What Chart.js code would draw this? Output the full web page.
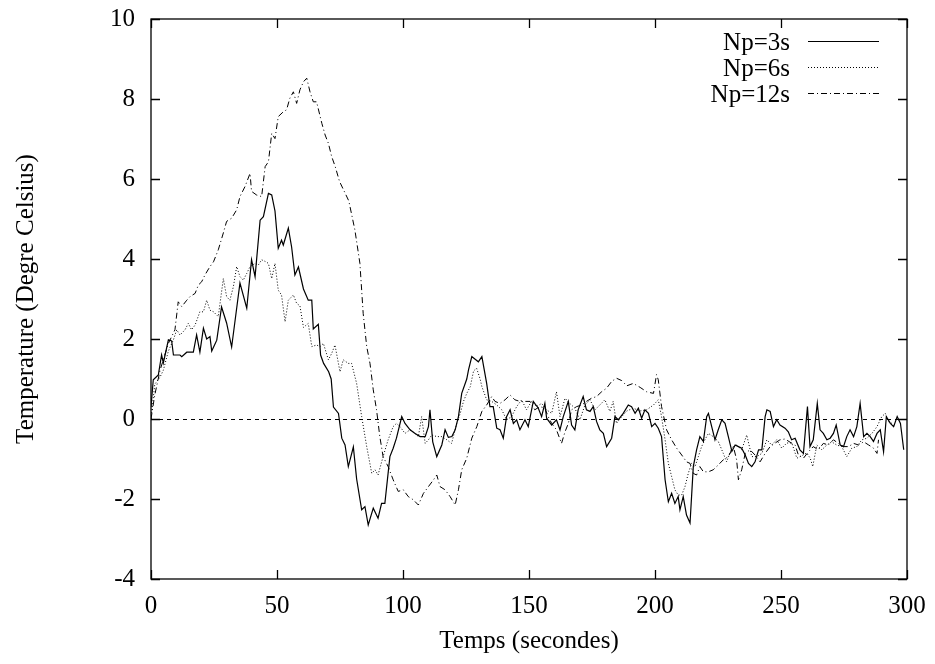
<!DOCTYPE html>
<html>
<head>
<meta charset="utf-8">
<script src="https://cdn.jsdelivr.net/npm/chart.js@4.4.1/dist/chart.umd.min.js"></script>
<style>
  html, body { margin: 0; padding: 0; background: #fff; }
  canvas { display: block; }
</style>
</head>
<body>
<canvas id="tempChart" width="935" height="664"></canvas>
<script>
// Np=3s (trait plein)
const t3 = [0, 0.9, 2.9, 4.2, 4.9, 6.9, 8.2, 8.9, 11.5, 12.2, 14.2, 16.8, 18.1, 19.4, 20.8, 22.1, 23.4, 24.1, 26.1, 28.0,
  30.0, 32.0, 35.3, 38.0, 39.9, 41.3, 43.3, 44.6, 46.6, 47.9, 49.2, 50.5, 51.8, 52.5, 54.5, 55.8, 57.1, 58.5, 60.5, 62.4,
  63.8, 64.4, 66.4, 67.3, 68.5, 70.5, 71.5, 72.4, 74.4, 75.7, 77.0, 78.3, 80.3, 81.6, 83.6, 84.9, 86.2, 88.2, 90.1, 91.5,
  92.8, 94.8, 96.1, 97.4, 99.5, 100.8, 102.8, 104.8, 106.8, 108.8, 110.1, 110.7, 111.8, 113.4, 115.4, 116.7, 118.0, 119.4, 120.7, 122.0,
  123.3, 125.3, 126.0, 127.3, 129.9, 131.3, 133.2, 134.5, 135.8, 137.2, 138.5, 139.8, 141.1, 142.5, 143.8, 145.1, 146.4, 148.4, 149.7, 151.7,
  153.7, 155.0, 156.3, 157.0, 159.0, 160.9, 162.3, 163.6, 165.6, 166.9, 168.2, 169.5, 171.5, 172.8, 174.2, 175.5, 176.8, 178.1, 179.5, 180.8,
  182.8, 184.1, 185.4, 187.4, 189.4, 190.7, 192.1, 193.4, 194.7, 196.0, 197.4, 198.7, 200.0, 201.3, 202.6, 204.0, 205.3, 206.6, 207.9, 209.2,
  209.9, 211.2, 212.5, 213.9, 215.2, 216.5, 217.8, 219.2, 220.5, 221.2, 222.5, 223.8, 225.1, 226.5, 227.8, 229.1, 230.5, 231.8, 233.1, 234.4,
  235.8, 237.1, 238.4, 239.7, 241.1, 242.4, 243.7, 244.4, 245.7, 247.0, 248.3, 249.6, 251.6, 252.9, 254.2, 255.6, 257.5, 258.9, 260.5, 261.5,
  262.8, 264.4, 265.5, 266.8, 268.2, 269.5, 270.8, 271.9, 273.5, 274.8, 276.1, 277.4, 278.8, 280.1, 281.4, 282.8, 284.1, 285.4, 286.7, 288.1,
  289.4, 290.7, 291.8, 293.4, 294.7, 296.1, 297.4, 298.7];
const v3 = [0.3, 0.98, 1.1, 1.6, 1.4, 1.98, 1.95, 1.6, 1.6, 1.56, 1.67, 1.67, 2.1, 1.67, 2.27, 2.0, 2.06, 1.7, 1.97, 2.8,
  2.4, 1.8, 3.4, 2.77, 3.98, 3.56, 4.97, 5.06, 5.64, 5.6, 5.2, 4.27, 4.47, 4.35, 4.77, 4.3, 3.6, 3.8, 3.25, 2.97,
  2.97, 2.25, 2.37, 1.6, 1.39, 1.18, 1.0, 0.3, 0.14, -0.48, -0.65, -1.19, -0.7, -1.5, -2.27, -2.19, -2.65, -2.23, -2.48, -2.11,
  -2.11, -0.94, -0.73, -0.48, 0.06, -0.11, -0.27, -0.36, -0.44, -0.44, -0.19, 0.23, -0.57, -0.94, -0.65, -0.27, -0.46, -0.44, -0.27, 0.06,
  0.64, 1.0, 1.23, 1.56, 1.43, 1.56, 0.89, 0.31, 0.31, -0.23, -0.27, -0.48, 0.06, 0.23, -0.11, -0.02, -0.27, -0.02, -0.19, 0.44,
  0.27, 0.06, 0.39, 0.02, -0.15, -0.02, -0.27, 0.06, 0.44, -0.15, -0.27, 0.23, 0.56, 0.23, 0.19, 0.31, -0.06, -0.27, -0.36, -0.69,
  -0.48, 0.06, -0.02, 0.14, 0.35, 0.31, 0.14, 0.27, 0.02, 0.23, 0.14, -0.19, -0.11, -0.23, -0.44, -1.52, -2.07, -1.86, -2.11, -1.94,
  -2.27, -1.94, -2.4, -2.6, -1.19, -0.77, -0.44, -0.56, 0.06, 0.14, -0.19, -0.52, -0.27, -0.02, -0.11, -0.44, -0.81, -0.65, -0.69, -0.73,
  -0.9, -1.11, -1.19, -1.07, -0.77, -0.77, 0.06, 0.23, 0.19, -0.19, -0.02, -0.15, -0.23, -0.32, -0.52, -0.48, -0.77, -0.86, 0.31, -0.69,
  -0.52, 0.39, -0.27, -0.36, -0.52, -0.48, -0.36, -0.15, -0.65, -0.69, -0.44, -0.27, -0.44, -0.19, 0.39, -0.44, -0.36, -0.44, -0.56, -0.36,
  -0.27, -0.82, 0.06, -0.11, -0.19, 0.06, -0.11, -0.77];

// Np=6s (pointillé)
const t6 = [0, 1.5, 3.6, 4.9, 6.9, 8.9, 10.2, 11.5, 13.5, 14.8, 16.1, 17.5, 19.4, 20.8, 22.1, 23.4, 24.8, 26.7, 28.7, 30.0,
  31.3, 32.7, 34.0, 35.3, 36.6, 38.0, 39.3, 41.3, 42.6, 43.9, 45.3, 46.6, 47.9, 49.2, 50.5, 51.8, 53.2, 54.5, 56.5, 57.8,
  59.1, 60.5, 62.4, 63.8, 65.7, 67.1, 68.4, 70.4, 71.7, 73.0, 75.0, 76.3, 78.3, 79.6, 81.6, 83.6, 85.6, 87.6, 88.9, 90.1,
  92.1, 94.1, 96.1, 97.4, 98.8, 100.8, 102.8, 104.8, 106.1, 107.4, 108.8, 110.1, 111.4, 113.4, 115.4, 117.4, 119.3, 121.3, 122.7, 124.0,
  125.3, 126.7, 128.0, 129.2, 130.6, 131.3, 133.2, 135.2, 137.2, 139.2, 141.1, 143.1, 145.1, 147.1, 149.0, 151.0, 153.0, 155.0, 157.0, 159.0,
  160.9, 162.3, 164.3, 166.2, 168.2, 170.2, 172.2, 174.2, 176.2, 178.1, 180.1, 182.1, 183.4, 184.7, 186.8, 188.8, 191.4, 194.0, 196.7, 199.4,
  201.3, 202.6, 204.0, 205.3, 206.6, 207.9, 209.2, 210.6, 211.9, 213.2, 214.5, 215.9, 217.2, 218.5, 219.8, 221.2, 223.1, 225.1, 227.1, 228.4,
  230.5, 232.4, 234.4, 236.4, 238.4, 240.4, 242.4, 244.4, 246.3, 248.3, 250.3, 252.3, 254.3, 256.3, 258.2, 260.2, 261.6, 262.6, 264.2, 266.2,
  268.2, 270.1, 272.1, 274.1, 276.1, 278.1, 280.1, 282.1, 284.1, 286.1, 288.1, 290.0, 291.4, 292.7, 294.0];
const v6 = [0.0, 0.87, 1.05, 1.22, 1.7, 1.98, 2.23, 2.1, 2.23, 2.39, 2.23, 2.35, 2.68, 2.68, 2.97, 2.72, 2.68, 2.56, 3.51, 3.06,
  2.97, 3.31, 3.81, 3.56, 3.47, 3.64, 3.81, 3.89, 3.85, 3.98, 3.94, 3.89, 3.51, 3.89, 3.22, 3.1, 2.43, 2.97, 3.1, 2.89,
  2.83, 2.29, 2.39, 1.81, 1.85, 1.81, 1.89, 1.48, 1.64, 1.85, 1.18, 1.48, 1.39, 1.39, 0.89, 0.06, -0.69, -1.36, -1.27, -1.4,
  -0.94, -0.52, -0.19, -0.11, -0.19, -0.36, -0.27, -0.36, -0.44, 0.06, -0.61, -0.52, -0.4, -0.44, -0.44, -0.52, -0.61, -0.11, 0.14, 0.44,
  0.64, 0.81, 1.2, 1.27, 1.0, 0.81, 0.48, 0.44, 0.35, 0.23, -0.02, 0.06, 0.31, 0.48, 0.23, 0.44, 0.31, 0.39, 0.23, 0.14,
  0.68, 0.06, 0.52, 0.39, 0.27, -0.02, 0.35, 0.48, 0.23, 0.35, 0.48, 0.19, 0.44, -0.11, 0.06, 0.2, 0.27, 0.2, 0.23, 0.35,
  0.48, 0.06, -0.52, -1.11, -1.44, -1.77, -1.9, -1.9, -1.69, -1.36, -1.11, -1.19, -0.94, -0.69, -0.52, -0.36, -0.44, -0.56, -0.86, -1.07,
  -0.73, -0.65, -0.77, -0.4, -0.94, -0.94, -0.86, -0.52, -0.65, -0.52, -0.73, -0.6, -0.6, -0.98, -0.92, -0.85, -0.98, -1.19, -0.65, -0.77,
  -0.65, -0.57, -0.65, -0.69, -0.94, -0.73, -0.69, -0.52, -0.48, -0.36, -0.19, 0.06, 0.14, -0.07, -0.11];

// Np=12s (tiret-point)
const t12 = [0, 1.5, 3.6, 6.9, 9.5, 10.8, 12.2, 14.2, 15.5, 17.5, 18.8, 20.1, 21.4, 23.4, 24.8, 26.7, 28.7, 30.0, 32.0, 34.0,
  35.3, 37.3, 39.3, 39.9, 41.9, 43.9, 45.3, 46.6, 47.9, 49.2, 50.5, 52.5, 53.8, 55.1, 56.5, 57.8, 59.1, 60.5, 61.8, 63.1,
  64.4, 65.7, 67.8, 69.1, 70.4, 71.7, 73.1, 74.8, 77.0, 78.5, 80.9, 82.9, 84.2, 85.6, 86.9, 88.2, 89.5, 90.8, 92.1, 94.1,
  96.1, 98.1, 100.1, 102.1, 104.1, 106.1, 108.1, 110.1, 112.1, 113.4, 114.7, 116.7, 118.7, 120.7, 122.0, 123.3, 125.3, 127.3, 129.3, 130.6,
  131.3, 133.2, 135.2, 136.5, 138.5, 140.5, 142.5, 144.4, 146.4, 148.4, 150.4, 152.3, 154.3, 156.3, 157.6, 159.0, 160.9, 162.9, 164.3, 165.6,
  166.9, 168.9, 170.9, 172.8, 174.8, 176.8, 178.8, 180.8, 182.8, 184.7, 186.8, 188.8, 191.4, 194.1, 196.7, 199.4, 200.6, 201.3, 202.6, 204.6,
  206.6, 208.6, 210.6, 212.5, 213.9, 215.2, 216.5, 217.8, 219.2, 221.2, 223.1, 225.1, 227.1, 229.1, 231.1, 232.4, 233.1, 234.4, 235.8, 237.7,
  239.7, 241.7, 243.7, 245.7, 247.7, 249.6, 251.6, 253.6, 255.6, 256.9, 258.9, 260.9, 262.8, 264.8, 266.8, 268.8, 270.8, 272.8, 274.8, 276.8,
  278.8, 280.8, 282.8, 284.8, 286.7, 288.1, 288.7];
const v12 = [0.0, 0.6, 1.22, 1.89, 2.23, 2.93, 2.81, 2.97, 3.06, 3.14, 3.35, 3.43, 3.6, 3.81, 3.93, 4.23, 4.65, 4.94, 5.02, 5.23,
  5.56, 5.81, 6.14, 5.69, 5.6, 5.56, 6.31, 6.43, 7.14, 7.01, 7.56, 7.68, 7.73, 8.02, 8.18, 7.89, 8.23, 8.43, 8.52, 8.18,
  7.93, 7.93, 7.39, 7.1, 6.89, 6.56, 6.31, 5.94, 5.65, 5.45, 4.73, 3.89, 2.64, 1.81, 1.39, 0.73, 0.23, -0.44, -0.94, -1.19,
  -1.52, -1.81, -1.77, -1.94, -2.02, -2.15, -1.86, -1.69, -1.52, -1.4, -1.69, -1.77, -1.94, -2.15, -1.77, -1.27, -0.98, -0.48, -0.19, 0.06,
  0.19, 0.35, 0.56, 0.44, 0.39, 0.48, 0.6, 0.48, 0.44, 0.44, 0.44, 0.23, 0.31, 0.27, 0.06, -0.11, -0.27, -0.61, -0.32, -0.11,
  0.23, 0.31, 0.35, 0.44, 0.52, 0.56, 0.68, 0.77, 0.94, 1.02, 0.96, 0.83, 0.89, 0.79, 0.68, 0.64, 1.11, 0.98, 0.31, -0.27,
  -0.52, -0.73, -0.9, -1.07, -1.11, -1.36, -1.4, -1.19, -1.32, -1.32, -1.27, -1.15, -1.02, -0.94, -0.69, -1.02, -1.52, -1.27, -0.86, -0.77,
  -0.9, -1.07, -0.86, -0.69, -0.6, -0.52, -0.5, -0.58, -0.65, -0.9, -0.98, -0.82, -0.69, -0.77, -0.61, -0.65, -0.52, -0.61, -0.69, -0.69,
  -0.61, -0.65, -0.57, -0.65, -0.73, -0.86, -0.52];

const seriesNames = ['Np=3s', 'Np=6s', 'Np=12s'];
const xTicks = [0, 50, 100, 150, 200, 250, 300];
const yTicks = [-4, -2, 0, 2, 4, 6, 8, 10];

const FONT = "'Liberation Serif', 'Times New Roman', serif";
const dashes = [[], [1, 2], [6, 3, 1, 3]];

function toPoints(ts, vs) {
  return ts.map((t, i) => ({ x: t, y: vs[i] }));
}

// pas de marge automatique autour des étiquettes : la zone de tracé reste fixe
function noPadding(s) {
  s.paddingTop = 0;
  s.paddingBottom = 0;
  s.paddingLeft = 0;
  s.paddingRight = 0;
}

// cadre, graduations intérieures, axe zéro et légende façon gnuplot
const gnuplotFrame = {
  id: 'gnuplotFrame',
  beforeDatasetsDraw(chart) {
    const { ctx, chartArea: a, scales: { y } } = chart;
    const y0 = y.getPixelForValue(0);
    ctx.save();
    ctx.strokeStyle = '#000';
    ctx.lineWidth = 1;
    ctx.setLineDash([4, 4]);
    ctx.beginPath();
    ctx.moveTo(a.left, y0 + 0.5);
    ctx.lineTo(a.right, y0 + 0.5);
    ctx.stroke();
    ctx.restore();
  },
  afterDatasetsDraw(chart) {
    const { ctx, chartArea: a, scales: { x, y } } = chart;
    ctx.save();
    ctx.strokeStyle = '#000';
    ctx.lineWidth = 1.3;
    ctx.setLineDash([]);
    ctx.strokeRect(a.left, a.top, a.right - a.left, a.bottom - a.top);
    const tl = 9;
    ctx.beginPath();
    xTicks.forEach(v => {
      const px = Math.round(x.getPixelForValue(v)) + 0.5;
      ctx.moveTo(px, a.bottom); ctx.lineTo(px, a.bottom - tl);
      ctx.moveTo(px, a.top); ctx.lineTo(px, a.top + tl);
    });
    yTicks.forEach(v => {
      const py = Math.round(y.getPixelForValue(v)) + 0.5;
      ctx.moveTo(a.left, py); ctx.lineTo(a.left + tl, py);
      ctx.moveTo(a.right, py); ctx.lineTo(a.right - tl, py);
    });
    ctx.stroke();

    // légende
    ctx.font = '25px ' + FONT;
    ctx.fillStyle = '#000';
    ctx.textAlign = 'right';
    ctx.textBaseline = 'alphabetic';
    seriesNames.forEach((name, i) => {
      const base = 50 + i * 26;
      ctx.fillText(name, 790, base);
      ctx.lineWidth = 1;
      ctx.setLineDash(dashes[i]);
      ctx.beginPath();
      ctx.moveTo(808, base - 8.5);
      ctx.lineTo(879, base - 8.5);
      ctx.stroke();
    });
    ctx.restore();
  }
};

window.addEventListener('load', function() {
  const ctx = document.getElementById('tempChart').getContext('2d');
  const pts = [toPoints(t3, v3), toPoints(t6, v6), toPoints(t12, v12)];
  new Chart(ctx, {
    type: 'line',
    data: {
      datasets: seriesNames.map((name, i) => ({
        label: name,
        data: pts[i],
        borderColor: '#000',
        borderWidth: i === 0 ? 1.2 : 1,
        borderDash: dashes[i],
        pointRadius: 0,
        tension: 0,
        fill: false
      }))
    },
    options: {
      responsive: false,
      devicePixelRatio: 1,
      animation: false,
      layout: { padding: { top: 19, right: 28, left: 0, bottom: 0 } },
      plugins: {
        legend: { display: false },
        tooltip: { enabled: false }
      },
      scales: {
        x: {
          type: 'linear',
          min: 0,
          max: 300,
          afterFit: s => { s.height = 85; noPadding(s); },
          afterBuildTicks: s => { s.ticks = xTicks.map(v => ({ value: v })); },
          grid: { display: false, drawTicks: false },
          border: { display: false },
          ticks: { color: '#000', padding: 12, maxRotation: 0, font: { family: FONT, size: 25 } },
          title: { display: true, text: 'Temps (secondes)', color: '#000', padding: { top: 0, bottom: 8 }, font: { family: FONT, size: 25 } }
        },
        y: {
          type: 'linear',
          min: -4,
          max: 10,
          afterFit: s => { s.width = 151; noPadding(s); },
          afterBuildTicks: s => { s.ticks = yTicks.map(v => ({ value: v })); },
          grid: { display: false, drawTicks: false },
          border: { display: false },
          ticks: { color: '#000', padding: 16, font: { family: FONT, size: 25 } },
          title: { display: true, text: 'Temperature (Degre Celsius)', color: '#000', padding: { top: 11, bottom: 0 }, font: { family: FONT, size: 25 } }
        }
      }
    },
    plugins: [gnuplotFrame]
  });
});
</script>
</body>
</html>
